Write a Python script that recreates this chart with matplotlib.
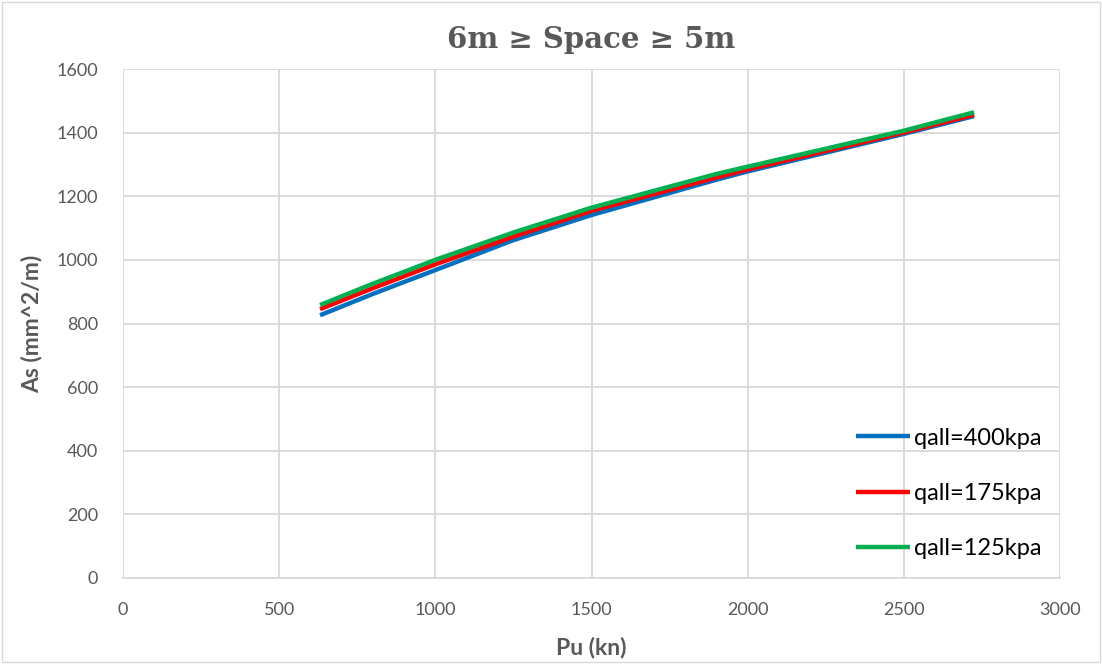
import matplotlib
matplotlib.use("Agg")
import matplotlib.pyplot as plt
from matplotlib.patches import Rectangle

# Data
pu = [631, 800, 1000, 1250, 1500, 1900, 2000, 2500, 2725]
as_400 = [826, 893, 968, 1062, 1141, 1252, 1278, 1396, 1452]
as_175 = [845, 911, 986, 1073, 1154, 1259, 1284, 1400, 1456]
as_125 = [858, 925, 1000, 1086, 1164, 1270, 1293, 1406, 1464]

labels = ["qall=400kpa", "qall=175kpa", "qall=125kpa"]
colors = ["#0070C0", "#FF0000", "#00B050"]

xticks = [0, 500, 1000, 1500, 2000, 2500, 3000]
yticks = [0, 200, 400, 600, 800, 1000, 1200, 1400, 1600]

fig = plt.figure(figsize=(11.02, 6.64), dpi=100)
ax = fig.add_axes([123/1102, 1-578/664, (1060-123)/1102, (578-69)/664])

for ys, lab, c in zip([as_400, as_175, as_125], labels, colors):
    ax.plot(pu, ys, color=c, lw=3.2, label=lab, solid_capstyle="butt", solid_joinstyle="round")

ax.set_xlim(0, 3000)
ax.set_ylim(0, 1600)
ax.set_xticks(xticks)
ax.set_yticks(yticks)
ax.grid(True, color="#d9d9d9", lw=1.3)
ax.set_axisbelow(True)
for s in ["top", "right", "left"]:
    ax.spines[s].set_visible(False)
ax.spines["bottom"].set_color("#d9d9d9")
ax.spines["bottom"].set_linewidth(1.3)
ax.tick_params(length=0, labelsize=13, colors="#595959")
ax.tick_params(axis="y", pad=18)
ax.tick_params(axis="x", pad=17)
for t in ax.get_xticklabels() + ax.get_yticklabels():
    t.set_family("Lato")

ax.set_xlabel("Pu (kn)", fontsize=16.5, fontweight="bold", color="#595959", family="Lato", labelpad=14)
ax.set_ylabel("As (mm^2/m)", fontsize=16.5, fontweight="bold", color="#595959", family="Lato", labelpad=10)
fig.text(591/1102, 1-40/664, "6m ≥ Space ≥ 5m", ha="center", va="center", fontsize=21,
         fontweight="bold", color="#595959", family=["DejaVu Serif"])

leg = ax.legend(loc="lower right", bbox_to_anchor=(1.0, 0.0), frameon=False, fontsize=17,
                handlelength=2.3, handletextpad=0.15, labelspacing=1.45, borderpad=0.3)
for t in leg.get_texts():
    t.set_family("Lato")
    t.set_color("#000000")

fig.patches.append(Rectangle((0.002, 0.003), 0.996, 0.994, transform=fig.transFigure,
                             fill=False, edgecolor="#d9d9d9", lw=1))
fig.savefig("out.png", dpi=100)
